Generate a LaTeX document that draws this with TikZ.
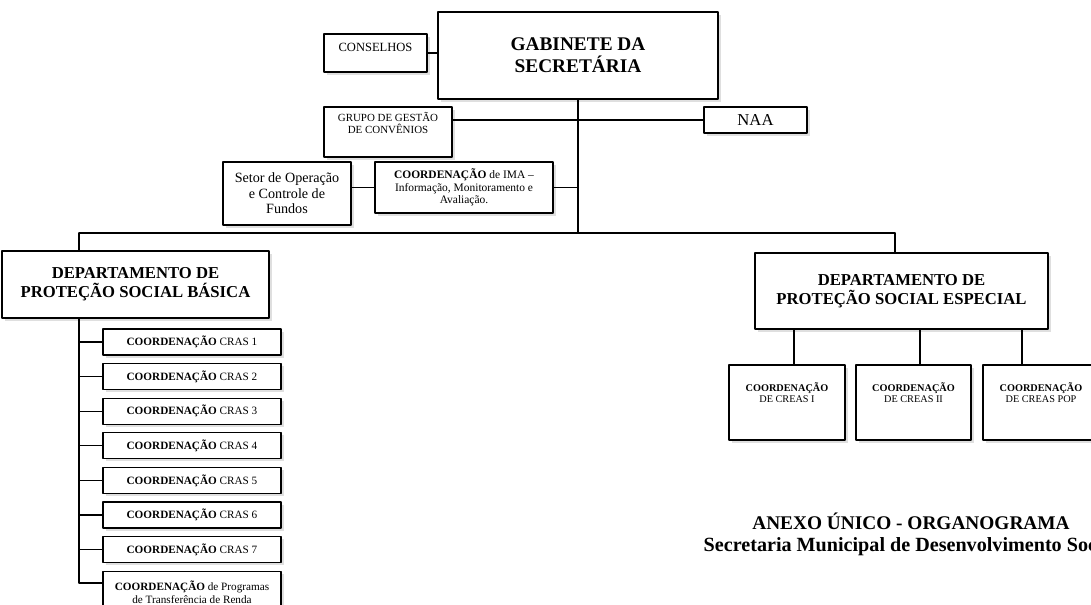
\documentclass[tikz,border=0pt]{standalone}
\usepackage{fontspec}
\setmainfont{Liberation Serif}
\usetikzlibrary{shadows}
\begin{document}
\begin{tikzpicture}[x=0.75pt, y=-0.75pt, line cap=round, line join=round,
  box/.style={draw, fill=white, line width=0.85pt, inner sep=0pt, align=center,
    drop shadow={shadow xshift=2pt, shadow yshift=-2pt, opacity=0.25}},
  link/.style={line width=0.85pt},
  crasbox/.style={box, minimum width=133.5pt, minimum height=19.5pt, font=\fontsize{8.4}{9.5}\selectfont},
  creasbox/.style={box, minimum width=87pt, minimum height=56.25pt},
  depto/.style={box, font=\fontsize{12.5}{14}\selectfont\bfseries}]
              \useasboundingbox (0,0) rectangle (1091,604);
              \clip (0,0) rectangle (1091,604);

              % topo
              \node[box, minimum width=210pt, minimum height=65.25pt, font=\fontsize{14.5}{16.3}\selectfont\bfseries] (gabinete) at (578,55.5) {GABINETE DA\\SECRETÁRIA};
              \node[box, minimum width=77.25pt, minimum height=28.5pt,
                label={[name=conselhostxt, anchor=north, inner sep=0pt, yshift=-6.75pt, font=\fontsize{9.4}{11}\selectfont]north:CONSELHOS}] (conselhos) at (375.5,53) {};
              \node[box, minimum width=96pt, minimum height=37.5pt,
                label={[name=grupotxt, anchor=north, inner sep=0pt, yshift=-4.5pt, align=center, font=\fontsize{8.2}{8.8}\selectfont]north:GRUPO DE GESTÃO\\DE CONVÊNIOS}] (grupo) at (388,132) {};
              \node[box, minimum width=77.25pt, minimum height=19.5pt, font=\fontsize{12.5}{14}\selectfont] (naa) at (755.5,120) {NAA};
              \node[box, minimum width=96pt, minimum height=47.25pt, font=\fontsize{10.6}{11.6}\selectfont] (setor) at (287,193.5) {Setor de Operação\\e Controle de\\Fundos};
              \node[box, minimum width=133.5pt, minimum height=38.25pt, font=\fontsize{8.6}{9.5}\selectfont] (ima) at (464,187.5) {\textbf{COORDENAÇÃO} de IMA –\\Informação, Monitoramento e\\Avaliação.};

              % departamentos
              \node[depto, minimum width=200.25pt, minimum height=50.25pt] (basica) at (135.5,284.5) {DEPARTAMENTO DE\\PROTEÇÃO SOCIAL BÁSICA};
              \node[depto, minimum width=219.75pt, minimum height=57pt] (especial) at (901.5,291) {DEPARTAMENTO DE\\PROTEÇÃO SOCIAL ESPECIAL};

              \node[crasbox] (cras1) at (192,342) {\textbf{COORDENAÇÃO} CRAS 1};
              \node[crasbox] (cras2) at (192,376.6) {\textbf{COORDENAÇÃO} CRAS 2};
              \node[crasbox] (cras3) at (192,411.2) {\textbf{COORDENAÇÃO} CRAS 3};
              \node[crasbox] (cras4) at (192,445.8) {\textbf{COORDENAÇÃO} CRAS 4};
              \node[crasbox] (cras5) at (192,480.4) {\textbf{COORDENAÇÃO} CRAS 5};
              \node[crasbox] (cras6) at (192,515) {\textbf{COORDENAÇÃO} CRAS 6};
              \node[crasbox] (cras7) at (192,549.6) {\textbf{COORDENAÇÃO} CRAS 7};
              \node[crasbox, anchor=north, inner ysep=5pt, minimum height=30.75pt] (cras8) at (192,571) {\textbf{COORDENAÇÃO} de Programas\\de Transferência de Renda};

              \node[creasbox, label={[name=creasItxt, anchor=north, inner sep=0pt, yshift=-13.5pt, align=center, font=\fontsize{7.7}{8.3}\selectfont]north:\textbf{COORDENAÇÃO}\\DE CREAS I}] (creasI) at (787,402.5) {};
              \node[creasbox, minimum width=86.25pt, label={[name=creasIItxt, anchor=north, inner sep=0pt, yshift=-13.5pt, align=center, font=\fontsize{7.7}{8.3}\selectfont]north:\textbf{COORDENAÇÃO}\\DE CREAS II}] (creasII) at (913.5,402.5) {};
              \node[creasbox, label={[name=creasPOPtxt, anchor=north, inner sep=0pt, yshift=-13.5pt, align=center, font=\fontsize{7.7}{8.3}\selectfont]north:\textbf{COORDENAÇÃO}\\DE CREAS POP}] (creasPOP) at (1041,402.5) {};

              \node[align=center, font=\fontsize{14.5}{16.5}\selectfont\bfseries] (titulo) at (911,534) {ANEXO ÚNICO - ORGANOGRAMA\\{\fontsize{15.1}{16.5}\selectfont Secretaria Municipal de Desenvolvimento Social}};

              % ligacoes
              \coordinate (bus) at (578,233);
              \coordinate (busL) at (79,233);
              \coordinate (busR) at (895,233);
              \draw[link] (conselhos.east) -- (conselhos.east -| gabinete.west);
              \draw[link] (gabinete.south) -- (bus);
              \draw[link] (naa.west) -- (naa.west -| grupo.east);
              \draw[link] (ima.west) -- (ima.west -| setor.east);
              \draw[link] (ima.east) -- (ima.east -| bus);
              \draw[link] (busL) -- (busR);
              \draw[link] (busL) -- (basica.north -| busL);
              \draw[link] (busR) -- (especial.north -| busR);

              \draw[link] (basica.south -| busL) |- ([yshift=-9pt]cras8.north west);
              \draw[link] (cras1.west) -- (cras1.west -| busL);
              \draw[link] (cras2.west) -- (cras2.west -| busL);
              \draw[link] (cras3.west) -- (cras3.west -| busL);
              \draw[link] (cras4.west) -- (cras4.west -| busL);
              \draw[link] (cras5.west) -- (cras5.west -| busL);
              \draw[link] (cras6.west) -- (cras6.west -| busL);
              \draw[link] (cras7.west) -- (cras7.west -| busL);

              \draw[link] ([xshift=5.25pt]creasI.north) -- ([xshift=5.25pt]creasI.north |- especial.south);
              \draw[link] ([xshift=4.9pt]creasII.north) -- ([xshift=4.9pt]creasII.north |- especial.south);
              \draw[link] ([xshift=-14.25pt]creasPOP.north) -- ([xshift=-14.25pt]creasPOP.north |- especial.south);
            \end{tikzpicture}
\end{document}
